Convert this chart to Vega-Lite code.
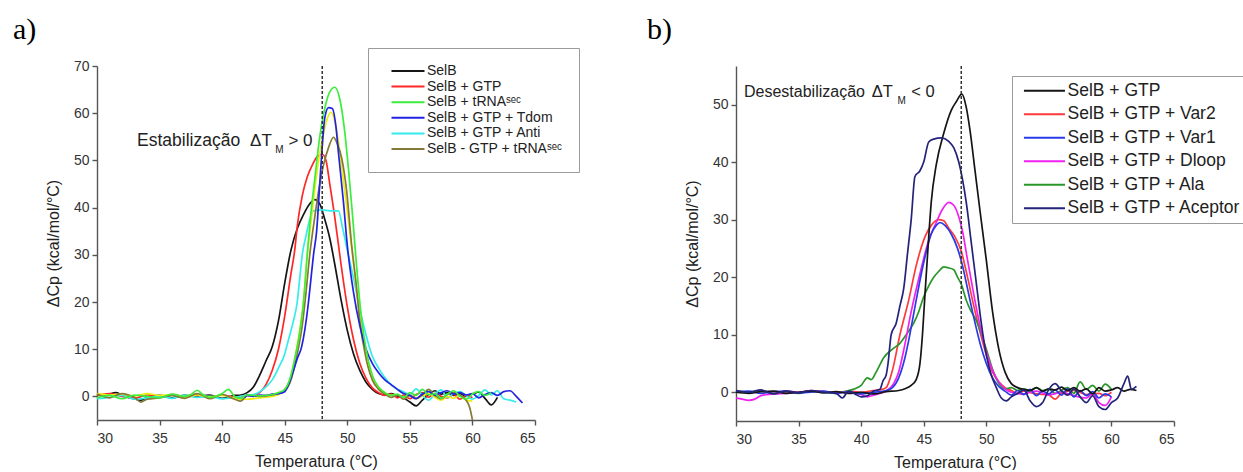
{
  "$schema": "https://vega.github.io/schema/vega-lite/v6.json",
  "padding": {"left": 13, "top": 14, "right": 0, "bottom": 0},
  "background": "#ffffff",
  "bounds": "flush",
  "spacing": 201,
  "config": {
    "font": "Liberation Sans",
    "view": {"stroke": null},
    "axis": {
      "grid": false,
      "labelFont": "Liberation Sans",
      "labelFontSize": 14,
      "labelColor": "#333333",
      "titleFont": "Liberation Sans",
      "titleFontSize": 16,
      "titleFontWeight": "normal",
      "titleColor": "#222222",
      "domainColor": "#555555",
      "domainWidth": 1.4,
      "tickColor": "#555555",
      "tickWidth": 1.4
    },
    "legend": {"labelFont": "Liberation Sans", "labelLimit": 400}
  },
  "datasets": {
    "painelA": [
      {"serie": "SelB", "temp": 30, "dcp": 0.4}, {"serie": "SelB", "temp": 30.5, "dcp": 0.1}, {"serie": "SelB", "temp": 31, "dcp": 0.5}, {"serie": "SelB", "temp": 31.5, "dcp": 0.8}, {"serie": "SelB", "temp": 32, "dcp": 0.3}, {"serie": "SelB", "temp": 32.5, "dcp": -0.2}, {"serie": "SelB", "temp": 33, "dcp": -0.5}, {"serie": "SelB", "temp": 33.5, "dcp": -0.8}, {"serie": "SelB", "temp": 34, "dcp": -0.2}, {"serie": "SelB", "temp": 35, "dcp": 0.2}, {"serie": "SelB", "temp": 36, "dcp": -0.3}, {"serie": "SelB", "temp": 37, "dcp": 0.2}, {"serie": "SelB", "temp": 38, "dcp": 0.0}, {"serie": "SelB", "temp": 39, "dcp": 0.3}, {"serie": "SelB", "temp": 40, "dcp": -0.4}, {"serie": "SelB", "temp": 41, "dcp": 0.2}, {"serie": "SelB", "temp": 41.5, "dcp": 0.3}, {"serie": "SelB", "temp": 42, "dcp": 0.8}, {"serie": "SelB", "temp": 42.5, "dcp": 2.0}, {"serie": "SelB", "temp": 43, "dcp": 4.5}, {"serie": "SelB", "temp": 43.5, "dcp": 7.5}, {"serie": "SelB", "temp": 44, "dcp": 10.5}, {"serie": "SelB", "temp": 44.5, "dcp": 16}, {"serie": "SelB", "temp": 45, "dcp": 24}, {"serie": "SelB", "temp": 45.5, "dcp": 31}, {"serie": "SelB", "temp": 46, "dcp": 35.5}, {"serie": "SelB", "temp": 46.5, "dcp": 38.5}, {"serie": "SelB", "temp": 47, "dcp": 40.8}, {"serie": "SelB", "temp": 47.4, "dcp": 41.7}, {"serie": "SelB", "temp": 47.8, "dcp": 40.8}, {"serie": "SelB", "temp": 48.2, "dcp": 37.5}, {"serie": "SelB", "temp": 48.6, "dcp": 33.5}, {"serie": "SelB", "temp": 49, "dcp": 28}, {"serie": "SelB", "temp": 49.5, "dcp": 20.5}, {"serie": "SelB", "temp": 50, "dcp": 14}, {"serie": "SelB", "temp": 50.5, "dcp": 9}, {"serie": "SelB", "temp": 51, "dcp": 5.5}, {"serie": "SelB", "temp": 51.5, "dcp": 3}, {"serie": "SelB", "temp": 52, "dcp": 1.5}, {"serie": "SelB", "temp": 52.5, "dcp": 0.6}, {"serie": "SelB", "temp": 53, "dcp": 0.3}, {"serie": "SelB", "temp": 53.5, "dcp": 0.6}, {"serie": "SelB", "temp": 54, "dcp": 0.1}, {"serie": "SelB", "temp": 54.5, "dcp": -0.3}, {"serie": "SelB", "temp": 55, "dcp": -1.2}, {"serie": "SelB", "temp": 55.5, "dcp": -2.0}, {"serie": "SelB", "temp": 56, "dcp": -0.8}, {"serie": "SelB", "temp": 56.5, "dcp": 0.4}, {"serie": "SelB", "temp": 57, "dcp": 1.2}, {"serie": "SelB", "temp": 57.5, "dcp": 0.5}, {"serie": "SelB", "temp": 58, "dcp": 0.8}, {"serie": "SelB", "temp": 58.5, "dcp": 0.2}, {"serie": "SelB", "temp": 59, "dcp": 0.6}, {"serie": "SelB", "temp": 59.5, "dcp": 0.0}, {"serie": "SelB", "temp": 60, "dcp": 0.5}, {"serie": "SelB", "temp": 60.5, "dcp": 0.9}, {"serie": "SelB", "temp": 61, "dcp": -0.4}, {"serie": "SelB", "temp": 61.5, "dcp": -1.8}, {"serie": "SelB", "temp": 62, "dcp": -0.2},

      {"serie": "SelB + GTP", "temp": 30, "dcp": 0.2}, {"serie": "SelB + GTP", "temp": 31, "dcp": 0.6}, {"serie": "SelB + GTP", "temp": 32, "dcp": 0.0}, {"serie": "SelB + GTP", "temp": 33, "dcp": -0.4}, {"serie": "SelB + GTP", "temp": 34, "dcp": 0.3}, {"serie": "SelB + GTP", "temp": 35, "dcp": -0.2}, {"serie": "SelB + GTP", "temp": 36, "dcp": 0.4}, {"serie": "SelB + GTP", "temp": 37, "dcp": -0.1}, {"serie": "SelB + GTP", "temp": 38, "dcp": 0.2}, {"serie": "SelB + GTP", "temp": 39, "dcp": -0.3}, {"serie": "SelB + GTP", "temp": 40, "dcp": 0.3}, {"serie": "SelB + GTP", "temp": 41, "dcp": -0.2}, {"serie": "SelB + GTP", "temp": 42, "dcp": 0.2}, {"serie": "SelB + GTP", "temp": 42.5, "dcp": 0.3}, {"serie": "SelB + GTP", "temp": 43, "dcp": 0.8}, {"serie": "SelB + GTP", "temp": 43.5, "dcp": 2.5}, {"serie": "SelB + GTP", "temp": 44, "dcp": 5.5}, {"serie": "SelB + GTP", "temp": 44.5, "dcp": 10}, {"serie": "SelB + GTP", "temp": 45, "dcp": 17}, {"serie": "SelB + GTP", "temp": 45.5, "dcp": 26}, {"serie": "SelB + GTP", "temp": 45.8, "dcp": 31}, {"serie": "SelB + GTP", "temp": 46, "dcp": 36}, {"serie": "SelB + GTP", "temp": 46.4, "dcp": 42.5}, {"serie": "SelB + GTP", "temp": 46.8, "dcp": 46.5}, {"serie": "SelB + GTP", "temp": 47.2, "dcp": 49}, {"serie": "SelB + GTP", "temp": 47.6, "dcp": 50.8}, {"serie": "SelB + GTP", "temp": 48, "dcp": 51.3}, {"serie": "SelB + GTP", "temp": 48.3, "dcp": 50}, {"serie": "SelB + GTP", "temp": 48.6, "dcp": 45}, {"serie": "SelB + GTP", "temp": 49, "dcp": 38}, {"serie": "SelB + GTP", "temp": 49.5, "dcp": 28}, {"serie": "SelB + GTP", "temp": 50, "dcp": 19}, {"serie": "SelB + GTP", "temp": 50.5, "dcp": 12}, {"serie": "SelB + GTP", "temp": 51, "dcp": 7}, {"serie": "SelB + GTP", "temp": 51.5, "dcp": 3.8}, {"serie": "SelB + GTP", "temp": 52, "dcp": 1.8}, {"serie": "SelB + GTP", "temp": 52.5, "dcp": 0.8}, {"serie": "SelB + GTP", "temp": 53, "dcp": 0.2}, {"serie": "SelB + GTP", "temp": 53.5, "dcp": 0.5}, {"serie": "SelB + GTP", "temp": 54, "dcp": -0.3}, {"serie": "SelB + GTP", "temp": 54.5, "dcp": 0.3}, {"serie": "SelB + GTP", "temp": 55, "dcp": -0.5}, {"serie": "SelB + GTP", "temp": 55.5, "dcp": 0.4}, {"serie": "SelB + GTP", "temp": 56, "dcp": 0.8}, {"serie": "SelB + GTP", "temp": 56.5, "dcp": -0.2}, {"serie": "SelB + GTP", "temp": 57, "dcp": 0.6}, {"serie": "SelB + GTP", "temp": 57.5, "dcp": 0.0}, {"serie": "SelB + GTP", "temp": 58, "dcp": -0.3}, {"serie": "SelB + GTP", "temp": 58.5, "dcp": 0.4}, {"serie": "SelB + GTP", "temp": 59, "dcp": -0.6}, {"serie": "SelB + GTP", "temp": 59.5, "dcp": 0.2}, {"serie": "SelB + GTP", "temp": 60, "dcp": -0.3},

      {"serie": "SelB + GTP + Anti", "temp": 30, "dcp": -0.5}, {"serie": "SelB + GTP + Anti", "temp": 31, "dcp": -0.2}, {"serie": "SelB + GTP + Anti", "temp": 32, "dcp": 0.2}, {"serie": "SelB + GTP + Anti", "temp": 33, "dcp": -0.6}, {"serie": "SelB + GTP + Anti", "temp": 34, "dcp": -0.3}, {"serie": "SelB + GTP + Anti", "temp": 35, "dcp": 0.1}, {"serie": "SelB + GTP + Anti", "temp": 36, "dcp": -0.4}, {"serie": "SelB + GTP + Anti", "temp": 37, "dcp": 0.2}, {"serie": "SelB + GTP + Anti", "temp": 38, "dcp": -0.2}, {"serie": "SelB + GTP + Anti", "temp": 39, "dcp": 0.0}, {"serie": "SelB + GTP + Anti", "temp": 40, "dcp": -0.5}, {"serie": "SelB + GTP + Anti", "temp": 41, "dcp": -0.2}, {"serie": "SelB + GTP + Anti", "temp": 42, "dcp": 0.3}, {"serie": "SelB + GTP + Anti", "temp": 42.5, "dcp": 0.4}, {"serie": "SelB + GTP + Anti", "temp": 43, "dcp": 1.0}, {"serie": "SelB + GTP + Anti", "temp": 43.5, "dcp": 2.0}, {"serie": "SelB + GTP + Anti", "temp": 44, "dcp": 3.5}, {"serie": "SelB + GTP + Anti", "temp": 44.5, "dcp": 6}, {"serie": "SelB + GTP + Anti", "temp": 45, "dcp": 9}, {"serie": "SelB + GTP + Anti", "temp": 45.3, "dcp": 12}, {"serie": "SelB + GTP + Anti", "temp": 45.7, "dcp": 16}, {"serie": "SelB + GTP + Anti", "temp": 46, "dcp": 20}, {"serie": "SelB + GTP + Anti", "temp": 46.2, "dcp": 25}, {"serie": "SelB + GTP + Anti", "temp": 46.4, "dcp": 30}, {"serie": "SelB + GTP + Anti", "temp": 46.7, "dcp": 34}, {"serie": "SelB + GTP + Anti", "temp": 47, "dcp": 37.5}, {"serie": "SelB + GTP + Anti", "temp": 47.3, "dcp": 39.3}, {"serie": "SelB + GTP + Anti", "temp": 48, "dcp": 39.5}, {"serie": "SelB + GTP + Anti", "temp": 48.6, "dcp": 39.3}, {"serie": "SelB + GTP + Anti", "temp": 49.3, "dcp": 39.3}, {"serie": "SelB + GTP + Anti", "temp": 49.6, "dcp": 36}, {"serie": "SelB + GTP + Anti", "temp": 50, "dcp": 31}, {"serie": "SelB + GTP + Anti", "temp": 50.5, "dcp": 25}, {"serie": "SelB + GTP + Anti", "temp": 51, "dcp": 18.5}, {"serie": "SelB + GTP + Anti", "temp": 51.5, "dcp": 13}, {"serie": "SelB + GTP + Anti", "temp": 52, "dcp": 8.5}, {"serie": "SelB + GTP + Anti", "temp": 52.5, "dcp": 6}, {"serie": "SelB + GTP + Anti", "temp": 53, "dcp": 4}, {"serie": "SelB + GTP + Anti", "temp": 53.5, "dcp": 2.5}, {"serie": "SelB + GTP + Anti", "temp": 54, "dcp": 1.5}, {"serie": "SelB + GTP + Anti", "temp": 54.5, "dcp": 1.0}, {"serie": "SelB + GTP + Anti", "temp": 55, "dcp": 0.4}, {"serie": "SelB + GTP + Anti", "temp": 55.5, "dcp": 1.6}, {"serie": "SelB + GTP + Anti", "temp": 56, "dcp": 0.2}, {"serie": "SelB + GTP + Anti", "temp": 56.5, "dcp": -0.8}, {"serie": "SelB + GTP + Anti", "temp": 57, "dcp": 0.5}, {"serie": "SelB + GTP + Anti", "temp": 57.5, "dcp": 1.4}, {"serie": "SelB + GTP + Anti", "temp": 58, "dcp": -0.2}, {"serie": "SelB + GTP + Anti", "temp": 58.5, "dcp": 0.6}, {"serie": "SelB + GTP + Anti", "temp": 59, "dcp": 1.0}, {"serie": "SelB + GTP + Anti", "temp": 59.5, "dcp": 0.2}, {"serie": "SelB + GTP + Anti", "temp": 60, "dcp": -0.6}, {"serie": "SelB + GTP + Anti", "temp": 60.5, "dcp": 0.2}, {"serie": "SelB + GTP + Anti", "temp": 61, "dcp": 1.4}, {"serie": "SelB + GTP + Anti", "temp": 61.5, "dcp": 0.3}, {"serie": "SelB + GTP + Anti", "temp": 62, "dcp": 1.2}, {"serie": "SelB + GTP + Anti", "temp": 62.5, "dcp": -0.5}, {"serie": "SelB + GTP + Anti", "temp": 63, "dcp": -0.8}, {"serie": "SelB + GTP + Anti", "temp": 63.5, "dcp": -1.2},

      {"serie": "SelB + GTP + tRNAˢᵉᶜ", "temp": 30, "dcp": 0.6}, {"serie": "SelB + GTP + tRNAˢᵉᶜ", "temp": 31, "dcp": 0.3}, {"serie": "SelB + GTP + tRNAˢᵉᶜ", "temp": 32, "dcp": 0.5}, {"serie": "SelB + GTP + tRNAˢᵉᶜ", "temp": 33, "dcp": 0.1}, {"serie": "SelB + GTP + tRNAˢᵉᶜ", "temp": 34, "dcp": 0.6}, {"serie": "SelB + GTP + tRNAˢᵉᶜ", "temp": 35, "dcp": 0.2}, {"serie": "SelB + GTP + tRNAˢᵉᶜ", "temp": 36, "dcp": 0.4}, {"serie": "SelB + GTP + tRNAˢᵉᶜ", "temp": 37, "dcp": -0.2}, {"serie": "SelB + GTP + tRNAˢᵉᶜ", "temp": 38, "dcp": 0.3}, {"serie": "SelB + GTP + tRNAˢᵉᶜ", "temp": 39, "dcp": -0.1}, {"serie": "SelB + GTP + tRNAˢᵉᶜ", "temp": 40, "dcp": 0.2}, {"serie": "SelB + GTP + tRNAˢᵉᶜ", "temp": 41, "dcp": -0.4}, {"serie": "SelB + GTP + tRNAˢᵉᶜ", "temp": 42, "dcp": -0.6}, {"serie": "SelB + GTP + tRNAˢᵉᶜ", "temp": 43, "dcp": -0.3}, {"serie": "SelB + GTP + tRNAˢᵉᶜ", "temp": 44, "dcp": 0.0}, {"serie": "SelB + GTP + tRNAˢᵉᶜ", "temp": 44.5, "dcp": 0.4}, {"serie": "SelB + GTP + tRNAˢᵉᶜ", "temp": 45, "dcp": 1.5}, {"serie": "SelB + GTP + tRNAˢᵉᶜ", "temp": 45.5, "dcp": 4}, {"serie": "SelB + GTP + tRNAˢᵉᶜ", "temp": 45.95, "dcp": 10}, {"serie": "SelB + GTP + tRNAˢᵉᶜ", "temp": 46.2, "dcp": 14}, {"serie": "SelB + GTP + tRNAˢᵉᶜ", "temp": 46.5, "dcp": 20}, {"serie": "SelB + GTP + tRNAˢᵉᶜ", "temp": 46.8, "dcp": 30}, {"serie": "SelB + GTP + tRNAˢᵉᶜ", "temp": 47.1, "dcp": 37}, {"serie": "SelB + GTP + tRNAˢᵉᶜ", "temp": 47.5, "dcp": 46}, {"serie": "SelB + GTP + tRNAˢᵉᶜ", "temp": 47.9, "dcp": 53}, {"serie": "SelB + GTP + tRNAˢᵉᶜ", "temp": 48.3, "dcp": 58}, {"serie": "SelB + GTP + tRNAˢᵉᶜ", "temp": 48.7, "dcp": 60.2}, {"serie": "SelB + GTP + tRNAˢᵉᶜ", "temp": 49.1, "dcp": 57}, {"serie": "SelB + GTP + tRNAˢᵉᶜ", "temp": 49.4, "dcp": 52}, {"serie": "SelB + GTP + tRNAˢᵉᶜ", "temp": 49.7, "dcp": 45.5}, {"serie": "SelB + GTP + tRNAˢᵉᶜ", "temp": 50.1, "dcp": 37}, {"serie": "SelB + GTP + tRNAˢᵉᶜ", "temp": 50.5, "dcp": 28}, {"serie": "SelB + GTP + tRNAˢᵉᶜ", "temp": 51, "dcp": 17}, {"serie": "SelB + GTP + tRNAˢᵉᶜ", "temp": 51.5, "dcp": 9}, {"serie": "SelB + GTP + tRNAˢᵉᶜ", "temp": 52, "dcp": 4}, {"serie": "SelB + GTP + tRNAˢᵉᶜ", "temp": 52.5, "dcp": 1.8}, {"serie": "SelB + GTP + tRNAˢᵉᶜ", "temp": 53, "dcp": 0.8}, {"serie": "SelB + GTP + tRNAˢᵉᶜ", "temp": 53.5, "dcp": 0.2}, {"serie": "SelB + GTP + tRNAˢᵉᶜ", "temp": 54, "dcp": 0.4}, {"serie": "SelB + GTP + tRNAˢᵉᶜ", "temp": 54.5, "dcp": -0.3}, {"serie": "SelB + GTP + tRNAˢᵉᶜ", "temp": 55, "dcp": 0.2}, {"serie": "SelB + GTP + tRNAˢᵉᶜ", "temp": 55.5, "dcp": -0.5}, {"serie": "SelB + GTP + tRNAˢᵉᶜ", "temp": 56, "dcp": 0.1}, {"serie": "SelB + GTP + tRNAˢᵉᶜ", "temp": 56.5, "dcp": 0.6}, {"serie": "SelB + GTP + tRNAˢᵉᶜ", "temp": 57, "dcp": -0.2}, {"serie": "SelB + GTP + tRNAˢᵉᶜ", "temp": 57.5, "dcp": -0.8}, {"serie": "SelB + GTP + tRNAˢᵉᶜ", "temp": 58, "dcp": 0.0}, {"serie": "SelB + GTP + tRNAˢᵉᶜ", "temp": 58.5, "dcp": -0.4}, {"serie": "SelB + GTP + tRNAˢᵉᶜ", "temp": 59, "dcp": 0.2}, {"serie": "SelB + GTP + tRNAˢᵉᶜ", "temp": 59.5, "dcp": -0.8}, {"serie": "SelB + GTP + tRNAˢᵉᶜ", "temp": 60, "dcp": -1.0},

      {"serie": "SelB - GTP + tRNAˢᵉᶜ", "temp": 30, "dcp": 0.5}, {"serie": "SelB - GTP + tRNAˢᵉᶜ", "temp": 30.5, "dcp": 0.0}, {"serie": "SelB - GTP + tRNAˢᵉᶜ", "temp": 31, "dcp": -0.3}, {"serie": "SelB - GTP + tRNAˢᵉᶜ", "temp": 31.5, "dcp": 0.2}, {"serie": "SelB - GTP + tRNAˢᵉᶜ", "temp": 32, "dcp": 0.6}, {"serie": "SelB - GTP + tRNAˢᵉᶜ", "temp": 32.5, "dcp": 0.3}, {"serie": "SelB - GTP + tRNAˢᵉᶜ", "temp": 33, "dcp": -0.2}, {"serie": "SelB - GTP + tRNAˢᵉᶜ", "temp": 33.5, "dcp": -1.2}, {"serie": "SelB - GTP + tRNAˢᵉᶜ", "temp": 34, "dcp": -0.6}, {"serie": "SelB - GTP + tRNAˢᵉᶜ", "temp": 35, "dcp": -0.3}, {"serie": "SelB - GTP + tRNAˢᵉᶜ", "temp": 36, "dcp": 0.2}, {"serie": "SelB - GTP + tRNAˢᵉᶜ", "temp": 37, "dcp": -0.4}, {"serie": "SelB - GTP + tRNAˢᵉᶜ", "temp": 38, "dcp": 0.6}, {"serie": "SelB - GTP + tRNAˢᵉᶜ", "temp": 38.5, "dcp": 0.2}, {"serie": "SelB - GTP + tRNAˢᵉᶜ", "temp": 39, "dcp": -0.5}, {"serie": "SelB - GTP + tRNAˢᵉᶜ", "temp": 40, "dcp": 0.4}, {"serie": "SelB - GTP + tRNAˢᵉᶜ", "temp": 41, "dcp": -0.6}, {"serie": "SelB - GTP + tRNAˢᵉᶜ", "temp": 41.5, "dcp": -1.0}, {"serie": "SelB - GTP + tRNAˢᵉᶜ", "temp": 42, "dcp": 0.2}, {"serie": "SelB - GTP + tRNAˢᵉᶜ", "temp": 43, "dcp": 0.0}, {"serie": "SelB - GTP + tRNAˢᵉᶜ", "temp": 44, "dcp": 0.3}, {"serie": "SelB - GTP + tRNAˢᵉᶜ", "temp": 44.5, "dcp": 0.6}, {"serie": "SelB - GTP + tRNAˢᵉᶜ", "temp": 45, "dcp": 1.2}, {"serie": "SelB - GTP + tRNAˢᵉᶜ", "temp": 45.5, "dcp": 3.5}, {"serie": "SelB - GTP + tRNAˢᵉᶜ", "temp": 46, "dcp": 9}, {"serie": "SelB - GTP + tRNAˢᵉᶜ", "temp": 46.4, "dcp": 15}, {"serie": "SelB - GTP + tRNAˢᵉᶜ", "temp": 46.7, "dcp": 22}, {"serie": "SelB - GTP + tRNAˢᵉᶜ", "temp": 47, "dcp": 30}, {"serie": "SelB - GTP + tRNAˢᵉᶜ", "temp": 47.4, "dcp": 38}, {"serie": "SelB - GTP + tRNAˢᵉᶜ", "temp": 47.8, "dcp": 45}, {"serie": "SelB - GTP + tRNAˢᵉᶜ", "temp": 48.1, "dcp": 49}, {"serie": "SelB - GTP + tRNAˢᵉᶜ", "temp": 48.5, "dcp": 52.7}, {"serie": "SelB - GTP + tRNAˢᵉᶜ", "temp": 48.9, "dcp": 54.9}, {"serie": "SelB - GTP + tRNAˢᵉᶜ", "temp": 49.2, "dcp": 53.5}, {"serie": "SelB - GTP + tRNAˢᵉᶜ", "temp": 49.55, "dcp": 50.5}, {"serie": "SelB - GTP + tRNAˢᵉᶜ", "temp": 49.95, "dcp": 43.5}, {"serie": "SelB - GTP + tRNAˢᵉᶜ", "temp": 50.35, "dcp": 32}, {"serie": "SelB - GTP + tRNAˢᵉᶜ", "temp": 50.7, "dcp": 24}, {"serie": "SelB - GTP + tRNAˢᵉᶜ", "temp": 51, "dcp": 16}, {"serie": "SelB - GTP + tRNAˢᵉᶜ", "temp": 51.5, "dcp": 8}, {"serie": "SelB - GTP + tRNAˢᵉᶜ", "temp": 52, "dcp": 3.5}, {"serie": "SelB - GTP + tRNAˢᵉᶜ", "temp": 52.5, "dcp": 1.5}, {"serie": "SelB - GTP + tRNAˢᵉᶜ", "temp": 53, "dcp": 0.5}, {"serie": "SelB - GTP + tRNAˢᵉᶜ", "temp": 53.5, "dcp": -0.2}, {"serie": "SelB - GTP + tRNAˢᵉᶜ", "temp": 54, "dcp": 0.3}, {"serie": "SelB - GTP + tRNAˢᵉᶜ", "temp": 54.5, "dcp": -0.6}, {"serie": "SelB - GTP + tRNAˢᵉᶜ", "temp": 55, "dcp": 0.2}, {"serie": "SelB - GTP + tRNAˢᵉᶜ", "temp": 55.5, "dcp": -0.4}, {"serie": "SelB - GTP + tRNAˢᵉᶜ", "temp": 56, "dcp": 0.3}, {"serie": "SelB - GTP + tRNAˢᵉᶜ", "temp": 56.5, "dcp": 1.5}, {"serie": "SelB - GTP + tRNAˢᵉᶜ", "temp": 57, "dcp": 0.2}, {"serie": "SelB - GTP + tRNAˢᵉᶜ", "temp": 57.5, "dcp": -0.5}, {"serie": "SelB - GTP + tRNAˢᵉᶜ", "temp": 58, "dcp": 0.4}, {"serie": "SelB - GTP + tRNAˢᵉᶜ", "temp": 58.5, "dcp": 0.8}, {"serie": "SelB - GTP + tRNAˢᵉᶜ", "temp": 59, "dcp": 0.2}, {"serie": "SelB - GTP + tRNAˢᵉᶜ", "temp": 59.5, "dcp": -0.8}, {"serie": "SelB - GTP + tRNAˢᵉᶜ", "temp": 59.8, "dcp": -2.5}, {"serie": "SelB - GTP + tRNAˢᵉᶜ", "temp": 60, "dcp": -5},

      {"serie": "SelB + GTP + Tdom", "temp": 41.8, "dcp": -0.3}, {"serie": "SelB + GTP + Tdom", "temp": 42, "dcp": 0.2}, {"serie": "SelB + GTP + Tdom", "temp": 42.5, "dcp": 0.0}, {"serie": "SelB + GTP + Tdom", "temp": 43, "dcp": 0.3}, {"serie": "SelB + GTP + Tdom", "temp": 43.5, "dcp": 0.2}, {"serie": "SelB + GTP + Tdom", "temp": 44, "dcp": 0.5}, {"serie": "SelB + GTP + Tdom", "temp": 44.5, "dcp": 0.6}, {"serie": "SelB + GTP + Tdom", "temp": 45, "dcp": 1.0}, {"serie": "SelB + GTP + Tdom", "temp": 45.3, "dcp": 2.5}, {"serie": "SelB + GTP + Tdom", "temp": 45.7, "dcp": 5.5}, {"serie": "SelB + GTP + Tdom", "temp": 46, "dcp": 8}, {"serie": "SelB + GTP + Tdom", "temp": 46.35, "dcp": 10.5}, {"serie": "SelB + GTP + Tdom", "temp": 46.6, "dcp": 14}, {"serie": "SelB + GTP + Tdom", "temp": 46.9, "dcp": 20}, {"serie": "SelB + GTP + Tdom", "temp": 47.1, "dcp": 25}, {"serie": "SelB + GTP + Tdom", "temp": 47.3, "dcp": 30}, {"serie": "SelB + GTP + Tdom", "temp": 47.55, "dcp": 35}, {"serie": "SelB + GTP + Tdom", "temp": 47.8, "dcp": 45}, {"serie": "SelB + GTP + Tdom", "temp": 48, "dcp": 53}, {"serie": "SelB + GTP + Tdom", "temp": 48.2, "dcp": 59}, {"serie": "SelB + GTP + Tdom", "temp": 48.5, "dcp": 61.2}, {"serie": "SelB + GTP + Tdom", "temp": 48.8, "dcp": 61}, {"serie": "SelB + GTP + Tdom", "temp": 49.1, "dcp": 57}, {"serie": "SelB + GTP + Tdom", "temp": 49.3, "dcp": 51.5}, {"serie": "SelB + GTP + Tdom", "temp": 49.7, "dcp": 41}, {"serie": "SelB + GTP + Tdom", "temp": 50, "dcp": 32}, {"serie": "SelB + GTP + Tdom", "temp": 50.5, "dcp": 22}, {"serie": "SelB + GTP + Tdom", "temp": 51, "dcp": 15}, {"serie": "SelB + GTP + Tdom", "temp": 51.5, "dcp": 10}, {"serie": "SelB + GTP + Tdom", "temp": 52, "dcp": 7}, {"serie": "SelB + GTP + Tdom", "temp": 52.5, "dcp": 5}, {"serie": "SelB + GTP + Tdom", "temp": 53, "dcp": 3.5}, {"serie": "SelB + GTP + Tdom", "temp": 53.5, "dcp": 2.5}, {"serie": "SelB + GTP + Tdom", "temp": 54, "dcp": 1.5}, {"serie": "SelB + GTP + Tdom", "temp": 54.5, "dcp": 0.6}, {"serie": "SelB + GTP + Tdom", "temp": 55, "dcp": 0.2}, {"serie": "SelB + GTP + Tdom", "temp": 55.5, "dcp": -0.5}, {"serie": "SelB + GTP + Tdom", "temp": 56, "dcp": 0.5}, {"serie": "SelB + GTP + Tdom", "temp": 56.5, "dcp": 1.0}, {"serie": "SelB + GTP + Tdom", "temp": 57, "dcp": 0.3}, {"serie": "SelB + GTP + Tdom", "temp": 57.5, "dcp": 0.8}, {"serie": "SelB + GTP + Tdom", "temp": 58, "dcp": 1.2}, {"serie": "SelB + GTP + Tdom", "temp": 58.5, "dcp": 0.5}, {"serie": "SelB + GTP + Tdom", "temp": 59, "dcp": 0.8}, {"serie": "SelB + GTP + Tdom", "temp": 59.5, "dcp": 0.3}, {"serie": "SelB + GTP + Tdom", "temp": 60, "dcp": 0.6}, {"serie": "SelB + GTP + Tdom", "temp": 60.5, "dcp": -0.3}, {"serie": "SelB + GTP + Tdom", "temp": 61, "dcp": 0.4}, {"serie": "SelB + GTP + Tdom", "temp": 61.5, "dcp": 0.8}, {"serie": "SelB + GTP + Tdom", "temp": 62, "dcp": 0.2}, {"serie": "SelB + GTP + Tdom", "temp": 62.5, "dcp": 1.0}, {"serie": "SelB + GTP + Tdom", "temp": 63, "dcp": 1.2}, {"serie": "SelB + GTP + Tdom", "temp": 63.5, "dcp": 0.0}, {"serie": "SelB + GTP + Tdom", "temp": 64, "dcp": -1.4},

      {"serie": "SelB + tRNAˢᵉᶜ", "temp": 30, "dcp": -0.3}, {"serie": "SelB + tRNAˢᵉᶜ", "temp": 31, "dcp": 0.2}, {"serie": "SelB + tRNAˢᵉᶜ", "temp": 32, "dcp": -0.5}, {"serie": "SelB + tRNAˢᵉᶜ", "temp": 33, "dcp": 0.3}, {"serie": "SelB + tRNAˢᵉᶜ", "temp": 34, "dcp": 0.0}, {"serie": "SelB + tRNAˢᵉᶜ", "temp": 35, "dcp": -0.3}, {"serie": "SelB + tRNAˢᵉᶜ", "temp": 36, "dcp": 0.5}, {"serie": "SelB + tRNAˢᵉᶜ", "temp": 37, "dcp": 0.0}, {"serie": "SelB + tRNAˢᵉᶜ", "temp": 37.5, "dcp": 0.4}, {"serie": "SelB + tRNAˢᵉᶜ", "temp": 38, "dcp": 1.3}, {"serie": "SelB + tRNAˢᵉᶜ", "temp": 38.5, "dcp": 0.3}, {"serie": "SelB + tRNAˢᵉᶜ", "temp": 39, "dcp": -0.2}, {"serie": "SelB + tRNAˢᵉᶜ", "temp": 40, "dcp": 0.6}, {"serie": "SelB + tRNAˢᵉᶜ", "temp": 40.5, "dcp": 1.5}, {"serie": "SelB + tRNAˢᵉᶜ", "temp": 41, "dcp": 0.0}, {"serie": "SelB + tRNAˢᵉᶜ", "temp": 41.5, "dcp": -0.4}, {"serie": "SelB + tRNAˢᵉᶜ", "temp": 42, "dcp": 0.3}, {"serie": "SelB + tRNAˢᵉᶜ", "temp": 43, "dcp": 0.1}, {"serie": "SelB + tRNAˢᵉᶜ", "temp": 44, "dcp": 0.4}, {"serie": "SelB + tRNAˢᵉᶜ", "temp": 44.5, "dcp": 0.8}, {"serie": "SelB + tRNAˢᵉᶜ", "temp": 45, "dcp": 1.5}, {"serie": "SelB + tRNAˢᵉᶜ", "temp": 45.5, "dcp": 4.5}, {"serie": "SelB + tRNAˢᵉᶜ", "temp": 45.8, "dcp": 8}, {"serie": "SelB + tRNAˢᵉᶜ", "temp": 46.1, "dcp": 12}, {"serie": "SelB + tRNAˢᵉᶜ", "temp": 46.5, "dcp": 20}, {"serie": "SelB + tRNAˢᵉᶜ", "temp": 46.8, "dcp": 30}, {"serie": "SelB + tRNAˢᵉᶜ", "temp": 47.1, "dcp": 39}, {"serie": "SelB + tRNAˢᵉᶜ", "temp": 47.4, "dcp": 46}, {"serie": "SelB + tRNAˢᵉᶜ", "temp": 47.8, "dcp": 55}, {"serie": "SelB + tRNAˢᵉᶜ", "temp": 48.2, "dcp": 61}, {"serie": "SelB + tRNAˢᵉᶜ", "temp": 48.6, "dcp": 64.5}, {"serie": "SelB + tRNAˢᵉᶜ", "temp": 49, "dcp": 65.5}, {"serie": "SelB + tRNAˢᵉᶜ", "temp": 49.4, "dcp": 63}, {"serie": "SelB + tRNAˢᵉᶜ", "temp": 49.8, "dcp": 56}, {"serie": "SelB + tRNAˢᵉᶜ", "temp": 50.1, "dcp": 48}, {"serie": "SelB + tRNAˢᵉᶜ", "temp": 50.4, "dcp": 39}, {"serie": "SelB + tRNAˢᵉᶜ", "temp": 50.7, "dcp": 29}, {"serie": "SelB + tRNAˢᵉᶜ", "temp": 51, "dcp": 20}, {"serie": "SelB + tRNAˢᵉᶜ", "temp": 51.5, "dcp": 10}, {"serie": "SelB + tRNAˢᵉᶜ", "temp": 52, "dcp": 4.5}, {"serie": "SelB + tRNAˢᵉᶜ", "temp": 52.5, "dcp": 2}, {"serie": "SelB + tRNAˢᵉᶜ", "temp": 53, "dcp": 0.8}, {"serie": "SelB + tRNAˢᵉᶜ", "temp": 53.5, "dcp": 0.2}, {"serie": "SelB + tRNAˢᵉᶜ", "temp": 54, "dcp": 0.5}, {"serie": "SelB + tRNAˢᵉᶜ", "temp": 54.5, "dcp": -0.2}, {"serie": "SelB + tRNAˢᵉᶜ", "temp": 55, "dcp": 0.8}, {"serie": "SelB + tRNAˢᵉᶜ", "temp": 55.5, "dcp": 0.2}, {"serie": "SelB + tRNAˢᵉᶜ", "temp": 56, "dcp": 1.5}, {"serie": "SelB + tRNAˢᵉᶜ", "temp": 56.5, "dcp": 0.3}, {"serie": "SelB + tRNAˢᵉᶜ", "temp": 57, "dcp": 0.6}, {"serie": "SelB + tRNAˢᵉᶜ", "temp": 57.5, "dcp": -0.4}, {"serie": "SelB + tRNAˢᵉᶜ", "temp": 58, "dcp": 0.5}, {"serie": "SelB + tRNAˢᵉᶜ", "temp": 58.5, "dcp": 1.2}, {"serie": "SelB + tRNAˢᵉᶜ", "temp": 59, "dcp": 0.0}, {"serie": "SelB + tRNAˢᵉᶜ", "temp": 59.5, "dcp": -0.6}, {"serie": "SelB + tRNAˢᵉᶜ", "temp": 60, "dcp": 0.5}, {"serie": "SelB + tRNAˢᵉᶜ", "temp": 60.5, "dcp": 1.0}, {"serie": "SelB + tRNAˢᵉᶜ", "temp": 61, "dcp": 0.2}, {"serie": "SelB + tRNAˢᵉᶜ", "temp": 61.5, "dcp": 0.8}
    ],
    "painelB": [
      {"serie": "SelB + GTP + Var2", "temp": 30, "dcp": 0.2}, {"serie": "SelB + GTP + Var2", "temp": 31, "dcp": 0.0}, {"serie": "SelB + GTP + Var2", "temp": 32, "dcp": 0.3}, {"serie": "SelB + GTP + Var2", "temp": 33, "dcp": -0.2}, {"serie": "SelB + GTP + Var2", "temp": 34, "dcp": 0.2}, {"serie": "SelB + GTP + Var2", "temp": 35, "dcp": 0.0}, {"serie": "SelB + GTP + Var2", "temp": 36, "dcp": 0.3}, {"serie": "SelB + GTP + Var2", "temp": 37, "dcp": 0.1}, {"serie": "SelB + GTP + Var2", "temp": 38, "dcp": -0.1}, {"serie": "SelB + GTP + Var2", "temp": 39, "dcp": 0.2}, {"serie": "SelB + GTP + Var2", "temp": 40, "dcp": 0.0}, {"serie": "SelB + GTP + Var2", "temp": 41, "dcp": 0.3}, {"serie": "SelB + GTP + Var2", "temp": 41.5, "dcp": 0.4}, {"serie": "SelB + GTP + Var2", "temp": 42, "dcp": 0.8}, {"serie": "SelB + GTP + Var2", "temp": 42.5, "dcp": 3.8}, {"serie": "SelB + GTP + Var2", "temp": 43.1, "dcp": 10}, {"serie": "SelB + GTP + Var2", "temp": 43.8, "dcp": 16}, {"serie": "SelB + GTP + Var2", "temp": 44.4, "dcp": 22}, {"serie": "SelB + GTP + Var2", "temp": 45.1, "dcp": 27}, {"serie": "SelB + GTP + Var2", "temp": 45.6, "dcp": 29}, {"serie": "SelB + GTP + Var2", "temp": 46.2, "dcp": 30}, {"serie": "SelB + GTP + Var2", "temp": 46.6, "dcp": 29.8}, {"serie": "SelB + GTP + Var2", "temp": 47, "dcp": 28.5}, {"serie": "SelB + GTP + Var2", "temp": 47.5, "dcp": 27}, {"serie": "SelB + GTP + Var2", "temp": 48, "dcp": 24.5}, {"serie": "SelB + GTP + Var2", "temp": 48.5, "dcp": 20}, {"serie": "SelB + GTP + Var2", "temp": 49, "dcp": 15}, {"serie": "SelB + GTP + Var2", "temp": 49.5, "dcp": 10.5}, {"serie": "SelB + GTP + Var2", "temp": 50, "dcp": 6.5}, {"serie": "SelB + GTP + Var2", "temp": 50.5, "dcp": 3.5}, {"serie": "SelB + GTP + Var2", "temp": 51, "dcp": 1.8}, {"serie": "SelB + GTP + Var2", "temp": 51.5, "dcp": 0.8}, {"serie": "SelB + GTP + Var2", "temp": 52, "dcp": 0.3}, {"serie": "SelB + GTP + Var2", "temp": 52.5, "dcp": -0.2}, {"serie": "SelB + GTP + Var2", "temp": 53, "dcp": 0.2}, {"serie": "SelB + GTP + Var2", "temp": 54, "dcp": -0.3}, {"serie": "SelB + GTP + Var2", "temp": 55, "dcp": -0.5}, {"serie": "SelB + GTP + Var2", "temp": 55.5, "dcp": -1.2}, {"serie": "SelB + GTP + Var2", "temp": 56, "dcp": -0.2}, {"serie": "SelB + GTP + Var2", "temp": 57, "dcp": 0.3}, {"serie": "SelB + GTP + Var2", "temp": 58, "dcp": -0.4}, {"serie": "SelB + GTP + Var2", "temp": 59, "dcp": -0.2}, {"serie": "SelB + GTP + Var2", "temp": 59.5, "dcp": -0.6}, {"serie": "SelB + GTP + Var2", "temp": 60, "dcp": 0.0},

      {"serie": "SelB + GTP + Ala", "temp": 30, "dcp": 0.3}, {"serie": "SelB + GTP + Ala", "temp": 31, "dcp": 0.0}, {"serie": "SelB + GTP + Ala", "temp": 32, "dcp": 0.2}, {"serie": "SelB + GTP + Ala", "temp": 33, "dcp": -0.3}, {"serie": "SelB + GTP + Ala", "temp": 34, "dcp": 0.1}, {"serie": "SelB + GTP + Ala", "temp": 35, "dcp": -0.2}, {"serie": "SelB + GTP + Ala", "temp": 36, "dcp": 0.2}, {"serie": "SelB + GTP + Ala", "temp": 37, "dcp": 0.0}, {"serie": "SelB + GTP + Ala", "temp": 38, "dcp": -0.2}, {"serie": "SelB + GTP + Ala", "temp": 39, "dcp": 0.3}, {"serie": "SelB + GTP + Ala", "temp": 39.5, "dcp": 0.6}, {"serie": "SelB + GTP + Ala", "temp": 40, "dcp": 1.2}, {"serie": "SelB + GTP + Ala", "temp": 40.5, "dcp": 2.5}, {"serie": "SelB + GTP + Ala", "temp": 40.8, "dcp": 2.2}, {"serie": "SelB + GTP + Ala", "temp": 41.2, "dcp": 3.5}, {"serie": "SelB + GTP + Ala", "temp": 41.8, "dcp": 6}, {"serie": "SelB + GTP + Ala", "temp": 42.5, "dcp": 7.5}, {"serie": "SelB + GTP + Ala", "temp": 43.1, "dcp": 8.5}, {"serie": "SelB + GTP + Ala", "temp": 43.6, "dcp": 10}, {"serie": "SelB + GTP + Ala", "temp": 44.2, "dcp": 12}, {"serie": "SelB + GTP + Ala", "temp": 44.6, "dcp": 14}, {"serie": "SelB + GTP + Ala", "temp": 45, "dcp": 16.6}, {"serie": "SelB + GTP + Ala", "temp": 45.4, "dcp": 18.5}, {"serie": "SelB + GTP + Ala", "temp": 45.8, "dcp": 20}, {"serie": "SelB + GTP + Ala", "temp": 46.2, "dcp": 21}, {"serie": "SelB + GTP + Ala", "temp": 46.6, "dcp": 21.8}, {"serie": "SelB + GTP + Ala", "temp": 47, "dcp": 21.6}, {"serie": "SelB + GTP + Ala", "temp": 47.4, "dcp": 21.3}, {"serie": "SelB + GTP + Ala", "temp": 47.7, "dcp": 20}, {"serie": "SelB + GTP + Ala", "temp": 48, "dcp": 18.8}, {"serie": "SelB + GTP + Ala", "temp": 48.4, "dcp": 16}, {"serie": "SelB + GTP + Ala", "temp": 48.8, "dcp": 14}, {"serie": "SelB + GTP + Ala", "temp": 49.2, "dcp": 12.5}, {"serie": "SelB + GTP + Ala", "temp": 49.5, "dcp": 10.7}, {"serie": "SelB + GTP + Ala", "temp": 50, "dcp": 7.5}, {"serie": "SelB + GTP + Ala", "temp": 50.5, "dcp": 4}, {"serie": "SelB + GTP + Ala", "temp": 51, "dcp": 1.5}, {"serie": "SelB + GTP + Ala", "temp": 51.5, "dcp": 0.6}, {"serie": "SelB + GTP + Ala", "temp": 52, "dcp": 0.8}, {"serie": "SelB + GTP + Ala", "temp": 52.5, "dcp": 0.3}, {"serie": "SelB + GTP + Ala", "temp": 53, "dcp": 0.6}, {"serie": "SelB + GTP + Ala", "temp": 53.5, "dcp": 0.2}, {"serie": "SelB + GTP + Ala", "temp": 54, "dcp": 0.8}, {"serie": "SelB + GTP + Ala", "temp": 54.5, "dcp": 0.3}, {"serie": "SelB + GTP + Ala", "temp": 55, "dcp": 0.5}, {"serie": "SelB + GTP + Ala", "temp": 55.5, "dcp": -0.2}, {"serie": "SelB + GTP + Ala", "temp": 56, "dcp": 0.3}, {"serie": "SelB + GTP + Ala", "temp": 56.5, "dcp": 0.8}, {"serie": "SelB + GTP + Ala", "temp": 57, "dcp": -0.2}, {"serie": "SelB + GTP + Ala", "temp": 57.5, "dcp": 1.8}, {"serie": "SelB + GTP + Ala", "temp": 58, "dcp": 0.5}, {"serie": "SelB + GTP + Ala", "temp": 58.5, "dcp": 1.2}, {"serie": "SelB + GTP + Ala", "temp": 59, "dcp": 0.2}, {"serie": "SelB + GTP + Ala", "temp": 59.5, "dcp": 1.4}, {"serie": "SelB + GTP + Ala", "temp": 60, "dcp": 0.5},

      {"serie": "SelB + GTP + Dloop", "temp": 30, "dcp": -1.0}, {"serie": "SelB + GTP + Dloop", "temp": 30.5, "dcp": -1.2}, {"serie": "SelB + GTP + Dloop", "temp": 31, "dcp": -1.4}, {"serie": "SelB + GTP + Dloop", "temp": 31.5, "dcp": -1.2}, {"serie": "SelB + GTP + Dloop", "temp": 32, "dcp": -0.6}, {"serie": "SelB + GTP + Dloop", "temp": 33, "dcp": -0.3}, {"serie": "SelB + GTP + Dloop", "temp": 34, "dcp": -0.2}, {"serie": "SelB + GTP + Dloop", "temp": 35, "dcp": 0.0}, {"serie": "SelB + GTP + Dloop", "temp": 36, "dcp": 0.2}, {"serie": "SelB + GTP + Dloop", "temp": 37, "dcp": 0.1}, {"serie": "SelB + GTP + Dloop", "temp": 38, "dcp": -0.1}, {"serie": "SelB + GTP + Dloop", "temp": 39, "dcp": 0.0}, {"serie": "SelB + GTP + Dloop", "temp": 40, "dcp": -0.4}, {"serie": "SelB + GTP + Dloop", "temp": 40.5, "dcp": -0.8}, {"serie": "SelB + GTP + Dloop", "temp": 41, "dcp": -0.5}, {"serie": "SelB + GTP + Dloop", "temp": 41.5, "dcp": -0.2}, {"serie": "SelB + GTP + Dloop", "temp": 42, "dcp": 0.2}, {"serie": "SelB + GTP + Dloop", "temp": 42.6, "dcp": 1.5}, {"serie": "SelB + GTP + Dloop", "temp": 43, "dcp": 3.5}, {"serie": "SelB + GTP + Dloop", "temp": 43.4, "dcp": 7.3}, {"serie": "SelB + GTP + Dloop", "temp": 44, "dcp": 14}, {"serie": "SelB + GTP + Dloop", "temp": 44.7, "dcp": 20.6}, {"serie": "SelB + GTP + Dloop", "temp": 45.4, "dcp": 26.4}, {"serie": "SelB + GTP + Dloop", "temp": 46, "dcp": 29.5}, {"serie": "SelB + GTP + Dloop", "temp": 46.5, "dcp": 31.8}, {"serie": "SelB + GTP + Dloop", "temp": 47, "dcp": 33}, {"serie": "SelB + GTP + Dloop", "temp": 47.4, "dcp": 32.5}, {"serie": "SelB + GTP + Dloop", "temp": 47.8, "dcp": 30.5}, {"serie": "SelB + GTP + Dloop", "temp": 48.1, "dcp": 28}, {"serie": "SelB + GTP + Dloop", "temp": 48.5, "dcp": 23}, {"serie": "SelB + GTP + Dloop", "temp": 49, "dcp": 17}, {"serie": "SelB + GTP + Dloop", "temp": 49.5, "dcp": 11.5}, {"serie": "SelB + GTP + Dloop", "temp": 50, "dcp": 7}, {"serie": "SelB + GTP + Dloop", "temp": 50.5, "dcp": 3.8}, {"serie": "SelB + GTP + Dloop", "temp": 51, "dcp": 1.8}, {"serie": "SelB + GTP + Dloop", "temp": 51.5, "dcp": 0.6}, {"serie": "SelB + GTP + Dloop", "temp": 52, "dcp": 0.0}, {"serie": "SelB + GTP + Dloop", "temp": 53, "dcp": -0.3}, {"serie": "SelB + GTP + Dloop", "temp": 54, "dcp": 0.2}, {"serie": "SelB + GTP + Dloop", "temp": 55, "dcp": -0.5}, {"serie": "SelB + GTP + Dloop", "temp": 56, "dcp": 0.0}, {"serie": "SelB + GTP + Dloop", "temp": 57, "dcp": -0.6}, {"serie": "SelB + GTP + Dloop", "temp": 58, "dcp": -1.0}, {"serie": "SelB + GTP + Dloop", "temp": 58.5, "dcp": -0.2}, {"serie": "SelB + GTP + Dloop", "temp": 59, "dcp": -1.8}, {"serie": "SelB + GTP + Dloop", "temp": 59.5, "dcp": -2.3}, {"serie": "SelB + GTP + Dloop", "temp": 60, "dcp": -0.8},

      {"serie": "SelB + GTP + Var1", "temp": 30, "dcp": 0.0}, {"serie": "SelB + GTP + Var1", "temp": 31, "dcp": 0.2}, {"serie": "SelB + GTP + Var1", "temp": 32, "dcp": -0.2}, {"serie": "SelB + GTP + Var1", "temp": 33, "dcp": 0.1}, {"serie": "SelB + GTP + Var1", "temp": 34, "dcp": 0.2}, {"serie": "SelB + GTP + Var1", "temp": 35, "dcp": -0.1}, {"serie": "SelB + GTP + Var1", "temp": 36, "dcp": 0.0}, {"serie": "SelB + GTP + Var1", "temp": 37, "dcp": 0.2}, {"serie": "SelB + GTP + Var1", "temp": 38, "dcp": -0.2}, {"serie": "SelB + GTP + Var1", "temp": 39, "dcp": 0.1}, {"serie": "SelB + GTP + Var1", "temp": 40, "dcp": -0.3}, {"serie": "SelB + GTP + Var1", "temp": 41, "dcp": 0.0}, {"serie": "SelB + GTP + Var1", "temp": 42, "dcp": 0.3}, {"serie": "SelB + GTP + Var1", "temp": 42.5, "dcp": 0.8}, {"serie": "SelB + GTP + Var1", "temp": 43, "dcp": 2.5}, {"serie": "SelB + GTP + Var1", "temp": 43.5, "dcp": 6}, {"serie": "SelB + GTP + Var1", "temp": 43.8, "dcp": 9}, {"serie": "SelB + GTP + Var1", "temp": 44.1, "dcp": 12.5}, {"serie": "SelB + GTP + Var1", "temp": 44.4, "dcp": 16}, {"serie": "SelB + GTP + Var1", "temp": 44.8, "dcp": 20.5}, {"serie": "SelB + GTP + Var1", "temp": 45.1, "dcp": 23.5}, {"serie": "SelB + GTP + Var1", "temp": 45.6, "dcp": 27.5}, {"serie": "SelB + GTP + Var1", "temp": 46, "dcp": 29}, {"serie": "SelB + GTP + Var1", "temp": 46.3, "dcp": 29.5}, {"serie": "SelB + GTP + Var1", "temp": 46.7, "dcp": 29}, {"serie": "SelB + GTP + Var1", "temp": 47.2, "dcp": 27.5}, {"serie": "SelB + GTP + Var1", "temp": 47.7, "dcp": 25}, {"serie": "SelB + GTP + Var1", "temp": 48.1, "dcp": 22}, {"serie": "SelB + GTP + Var1", "temp": 48.5, "dcp": 18}, {"serie": "SelB + GTP + Var1", "temp": 49, "dcp": 13}, {"serie": "SelB + GTP + Var1", "temp": 49.5, "dcp": 8.5}, {"serie": "SelB + GTP + Var1", "temp": 50, "dcp": 5}, {"serie": "SelB + GTP + Var1", "temp": 50.5, "dcp": 2.5}, {"serie": "SelB + GTP + Var1", "temp": 51, "dcp": 1.0}, {"serie": "SelB + GTP + Var1", "temp": 51.5, "dcp": 0.2}, {"serie": "SelB + GTP + Var1", "temp": 52, "dcp": -0.5}, {"serie": "SelB + GTP + Var1", "temp": 52.5, "dcp": 0.3}, {"serie": "SelB + GTP + Var1", "temp": 53, "dcp": -0.4}, {"serie": "SelB + GTP + Var1", "temp": 53.5, "dcp": 0.5}, {"serie": "SelB + GTP + Var1", "temp": 54, "dcp": -0.6}, {"serie": "SelB + GTP + Var1", "temp": 54.5, "dcp": 0.2}, {"serie": "SelB + GTP + Var1", "temp": 55, "dcp": -0.3}, {"serie": "SelB + GTP + Var1", "temp": 55.5, "dcp": 0.4}, {"serie": "SelB + GTP + Var1", "temp": 56, "dcp": -0.5}, {"serie": "SelB + GTP + Var1", "temp": 56.5, "dcp": 0.6}, {"serie": "SelB + GTP + Var1", "temp": 57, "dcp": -0.8}, {"serie": "SelB + GTP + Var1", "temp": 57.5, "dcp": 0.3}, {"serie": "SelB + GTP + Var1", "temp": 58, "dcp": -0.6}, {"serie": "SelB + GTP + Var1", "temp": 58.5, "dcp": 0.1}, {"serie": "SelB + GTP + Var1", "temp": 59, "dcp": -1.0}, {"serie": "SelB + GTP + Var1", "temp": 59.5, "dcp": -0.3}, {"serie": "SelB + GTP + Var1", "temp": 60, "dcp": -0.8},

      {"serie": "SelB + GTP", "temp": 30, "dcp": 0.0}, {"serie": "SelB + GTP", "temp": 31, "dcp": -0.2}, {"serie": "SelB + GTP", "temp": 32, "dcp": 0.1}, {"serie": "SelB + GTP", "temp": 33, "dcp": 0.2}, {"serie": "SelB + GTP", "temp": 34, "dcp": -0.2}, {"serie": "SelB + GTP", "temp": 35, "dcp": 0.0}, {"serie": "SelB + GTP", "temp": 36, "dcp": 0.2}, {"serie": "SelB + GTP", "temp": 37, "dcp": -0.1}, {"serie": "SelB + GTP", "temp": 38, "dcp": 0.1}, {"serie": "SelB + GTP", "temp": 39, "dcp": -0.2}, {"serie": "SelB + GTP", "temp": 40, "dcp": 0.0}, {"serie": "SelB + GTP", "temp": 41, "dcp": -0.3}, {"serie": "SelB + GTP", "temp": 42, "dcp": 0.1}, {"serie": "SelB + GTP", "temp": 43, "dcp": 0.3}, {"serie": "SelB + GTP", "temp": 43.5, "dcp": 0.6}, {"serie": "SelB + GTP", "temp": 44, "dcp": 1.2}, {"serie": "SelB + GTP", "temp": 44.4, "dcp": 2.2}, {"serie": "SelB + GTP", "temp": 44.7, "dcp": 5}, {"serie": "SelB + GTP", "temp": 44.9, "dcp": 10}, {"serie": "SelB + GTP", "temp": 45.1, "dcp": 17}, {"serie": "SelB + GTP", "temp": 45.4, "dcp": 27}, {"serie": "SelB + GTP", "temp": 45.6, "dcp": 33}, {"serie": "SelB + GTP", "temp": 46, "dcp": 39.5}, {"serie": "SelB + GTP", "temp": 46.6, "dcp": 45}, {"serie": "SelB + GTP", "temp": 47.2, "dcp": 49}, {"serie": "SelB + GTP", "temp": 47.6, "dcp": 50.5}, {"serie": "SelB + GTP", "temp": 48.05, "dcp": 51.8}, {"serie": "SelB + GTP", "temp": 48.4, "dcp": 49.5}, {"serie": "SelB + GTP", "temp": 48.7, "dcp": 45.5}, {"serie": "SelB + GTP", "temp": 49.1, "dcp": 38.5}, {"serie": "SelB + GTP", "temp": 49.5, "dcp": 31.5}, {"serie": "SelB + GTP", "temp": 50, "dcp": 23}, {"serie": "SelB + GTP", "temp": 50.5, "dcp": 14}, {"serie": "SelB + GTP", "temp": 51, "dcp": 7.5}, {"serie": "SelB + GTP", "temp": 51.5, "dcp": 3.5}, {"serie": "SelB + GTP", "temp": 52, "dcp": 1.5}, {"serie": "SelB + GTP", "temp": 52.5, "dcp": 0.8}, {"serie": "SelB + GTP", "temp": 53, "dcp": 0.5}, {"serie": "SelB + GTP", "temp": 53.5, "dcp": 0.3}, {"serie": "SelB + GTP", "temp": 54, "dcp": 0.8}, {"serie": "SelB + GTP", "temp": 54.5, "dcp": 0.2}, {"serie": "SelB + GTP", "temp": 55, "dcp": 0.6}, {"serie": "SelB + GTP", "temp": 55.5, "dcp": 0.4}, {"serie": "SelB + GTP", "temp": 56, "dcp": 0.9}, {"serie": "SelB + GTP", "temp": 56.5, "dcp": 0.3}, {"serie": "SelB + GTP", "temp": 57, "dcp": 0.8}, {"serie": "SelB + GTP", "temp": 57.5, "dcp": 0.2}, {"serie": "SelB + GTP", "temp": 58, "dcp": 0.6}, {"serie": "SelB + GTP", "temp": 58.5, "dcp": -0.3}, {"serie": "SelB + GTP", "temp": 59, "dcp": 0.8}, {"serie": "SelB + GTP", "temp": 59.5, "dcp": 0.2}, {"serie": "SelB + GTP", "temp": 60, "dcp": 0.4}, {"serie": "SelB + GTP", "temp": 60.5, "dcp": 0.8}, {"serie": "SelB + GTP", "temp": 61, "dcp": 0.2}, {"serie": "SelB + GTP", "temp": 61.5, "dcp": 0.5}, {"serie": "SelB + GTP", "temp": 62, "dcp": 0.3},

      {"serie": "SelB + GTP + Aceptor", "temp": 30, "dcp": 0.3}, {"serie": "SelB + GTP + Aceptor", "temp": 31, "dcp": 0.0}, {"serie": "SelB + GTP + Aceptor", "temp": 32, "dcp": 0.4}, {"serie": "SelB + GTP + Aceptor", "temp": 33, "dcp": -0.3}, {"serie": "SelB + GTP + Aceptor", "temp": 34, "dcp": 0.2}, {"serie": "SelB + GTP + Aceptor", "temp": 35, "dcp": -0.1}, {"serie": "SelB + GTP + Aceptor", "temp": 36, "dcp": 0.3}, {"serie": "SelB + GTP + Aceptor", "temp": 37, "dcp": 0.0}, {"serie": "SelB + GTP + Aceptor", "temp": 38, "dcp": -0.2}, {"serie": "SelB + GTP + Aceptor", "temp": 38.5, "dcp": -1.0}, {"serie": "SelB + GTP + Aceptor", "temp": 39, "dcp": 0.2}, {"serie": "SelB + GTP + Aceptor", "temp": 39.5, "dcp": -0.3}, {"serie": "SelB + GTP + Aceptor", "temp": 40, "dcp": -0.8}, {"serie": "SelB + GTP + Aceptor", "temp": 40.5, "dcp": -0.6}, {"serie": "SelB + GTP + Aceptor", "temp": 41, "dcp": 0.2}, {"serie": "SelB + GTP + Aceptor", "temp": 41.5, "dcp": 0.5}, {"serie": "SelB + GTP + Aceptor", "temp": 41.75, "dcp": 2}, {"serie": "SelB + GTP + Aceptor", "temp": 42, "dcp": 3}, {"serie": "SelB + GTP + Aceptor", "temp": 42.15, "dcp": 5}, {"serie": "SelB + GTP + Aceptor", "temp": 42.4, "dcp": 10}, {"serie": "SelB + GTP + Aceptor", "temp": 42.8, "dcp": 12}, {"serie": "SelB + GTP + Aceptor", "temp": 43.1, "dcp": 15}, {"serie": "SelB + GTP + Aceptor", "temp": 43.4, "dcp": 18}, {"serie": "SelB + GTP + Aceptor", "temp": 43.7, "dcp": 24}, {"serie": "SelB + GTP + Aceptor", "temp": 44, "dcp": 30}, {"serie": "SelB + GTP + Aceptor", "temp": 44.3, "dcp": 37.5}, {"serie": "SelB + GTP + Aceptor", "temp": 44.7, "dcp": 38.5}, {"serie": "SelB + GTP + Aceptor", "temp": 45, "dcp": 40}, {"serie": "SelB + GTP + Aceptor", "temp": 45.4, "dcp": 43.5}, {"serie": "SelB + GTP + Aceptor", "temp": 45.8, "dcp": 44}, {"serie": "SelB + GTP + Aceptor", "temp": 46.4, "dcp": 44.2}, {"serie": "SelB + GTP + Aceptor", "temp": 47, "dcp": 43.6}, {"serie": "SelB + GTP + Aceptor", "temp": 47.4, "dcp": 42.5}, {"serie": "SelB + GTP + Aceptor", "temp": 47.8, "dcp": 40}, {"serie": "SelB + GTP + Aceptor", "temp": 48.1, "dcp": 37}, {"serie": "SelB + GTP + Aceptor", "temp": 48.4, "dcp": 33}, {"serie": "SelB + GTP + Aceptor", "temp": 48.8, "dcp": 26}, {"serie": "SelB + GTP + Aceptor", "temp": 49.2, "dcp": 19}, {"serie": "SelB + GTP + Aceptor", "temp": 49.6, "dcp": 12}, {"serie": "SelB + GTP + Aceptor", "temp": 50, "dcp": 6.5}, {"serie": "SelB + GTP + Aceptor", "temp": 50.4, "dcp": 3}, {"serie": "SelB + GTP + Aceptor", "temp": 50.8, "dcp": 0.8}, {"serie": "SelB + GTP + Aceptor", "temp": 51.2, "dcp": -1.0}, {"serie": "SelB + GTP + Aceptor", "temp": 51.6, "dcp": -1.5}, {"serie": "SelB + GTP + Aceptor", "temp": 52, "dcp": -0.8}, {"serie": "SelB + GTP + Aceptor", "temp": 52.5, "dcp": -0.2}, {"serie": "SelB + GTP + Aceptor", "temp": 53, "dcp": 0.4}, {"serie": "SelB + GTP + Aceptor", "temp": 53.5, "dcp": -1.5}, {"serie": "SelB + GTP + Aceptor", "temp": 54, "dcp": -2.5}, {"serie": "SelB + GTP + Aceptor", "temp": 54.5, "dcp": -1.8}, {"serie": "SelB + GTP + Aceptor", "temp": 55, "dcp": 0.5}, {"serie": "SelB + GTP + Aceptor", "temp": 55.5, "dcp": 1.5}, {"serie": "SelB + GTP + Aceptor", "temp": 56, "dcp": 0.3}, {"serie": "SelB + GTP + Aceptor", "temp": 56.5, "dcp": -0.5}, {"serie": "SelB + GTP + Aceptor", "temp": 57, "dcp": 0.6}, {"serie": "SelB + GTP + Aceptor", "temp": 57.5, "dcp": -0.8}, {"serie": "SelB + GTP + Aceptor", "temp": 58, "dcp": -1.8}, {"serie": "SelB + GTP + Aceptor", "temp": 58.5, "dcp": -0.6}, {"serie": "SelB + GTP + Aceptor", "temp": 59, "dcp": -2.5}, {"serie": "SelB + GTP + Aceptor", "temp": 59.5, "dcp": -3.0}, {"serie": "SelB + GTP + Aceptor", "temp": 60, "dcp": -1.8}, {"serie": "SelB + GTP + Aceptor", "temp": 60.5, "dcp": -1.0}, {"serie": "SelB + GTP + Aceptor", "temp": 61, "dcp": 1.5}, {"serie": "SelB + GTP + Aceptor", "temp": 61.3, "dcp": 2.8}, {"serie": "SelB + GTP + Aceptor", "temp": 61.6, "dcp": 0.5}, {"serie": "SelB + GTP + Aceptor", "temp": 62, "dcp": 1.0}
    ]
  },
  "resolve": {
    "scale": {"x": "independent", "y": "independent", "color": "independent"},
    "legend": {"color": "independent"}
  },
  "hconcat": [
    {
      "title": {"text": "a)", "anchor": "start", "frame": "group", "font": "Liberation Serif", "fontSize": 30, "fontWeight": "normal", "color": "#000000", "dx": -84, "offset": 3},
      "width": 438,
      "height": 354,
      "data": {"name": "painelA"},
      "layer": [
        {
          "mark": {"type": "line", "strokeWidth": 1.7, "interpolate": "monotone"},
          "encoding": {
            "x": {"field": "temp", "type": "quantitative", "scale": {"domain": [30, 65], "nice": false, "zero": false},
                  "axis": {"values": [30, 32.5, 35, 37.5, 40, 42.5, 45, 47.5, 50, 52.5, 55, 57.5, 60, 62.5, 65],
                           "labelExpr": "datum.value % 5 === 0 ? datum.label : ''",
                           "tickSize": {"condition": {"test": "datum.value % 5 === 0", "value": 5}, "value": 3},
                           "labelPadding": 6, "title": "Temperatura (°C)", "titlePadding": 8}},
            "y": {"field": "dcp", "type": "quantitative", "scale": {"domain": [-5, 70], "nice": false, "zero": false},
                  "axis": {"values": [0, 5, 10, 15, 20, 25, 30, 35, 40, 45, 50, 55, 60, 65, 70],
                           "labelExpr": "datum.value % 10 === 0 ? datum.label : ''",
                           "tickSize": {"condition": {"test": "datum.value % 10 === 0", "value": 5}, "value": 3},
                           "labelPadding": 3, "title": "ΔCp (kcal/mol/°C)", "titlePadding": 12}},
            "color": {
              "field": "serie", "type": "nominal",
              "scale": {
                "domain": ["SelB", "SelB + GTP", "SelB + tRNAˢᵉᶜ", "SelB + GTP + Tdom", "SelB + GTP + Anti", "SelB - GTP + tRNAˢᵉᶜ", "SelB + GTP + tRNAˢᵉᶜ"],
                "range": ["#151515", "#ff2626", "#3ded3d", "#2222e0", "#35ecec", "#857a35", "#eded10"]
              },
              "legend": {
                "values": ["SelB", "SelB + GTP", "SelB + tRNAˢᵉᶜ", "SelB + GTP + Tdom", "SelB + GTP + Anti", "SelB - GTP + tRNAˢᵉᶜ"],
                "orient": "none", "legendX": 271, "legendY": -18, "title": null,
                "symbolType": "M-3,0H3", "symbolSize": 121, "symbolStrokeWidth": 2,
                "symbolOffset": 17, "labelOffset": 12,
                "labelFontSize": 14, "labelColor": "#222222",
                "rowPadding": 1.6, "padding": 16,
                "strokeColor": "#9a9a9a", "fillColor": "#ffffff"
              }
            }
          }
        },
        {
          "data": {"values": [{}]},
          "mark": {"type": "rule", "color": "#333333", "strokeWidth": 1.5, "strokeDash": [3, 2]},
          "encoding": {"x": {"datum": 48, "type": "quantitative"}}
        },
        {
          "data": {"values": [{}]},
          "mark": {"type": "text", "align": "left", "baseline": "alphabetic", "fontSize": 17.5, "color": "#222222"},
          "encoding": {
            "x": {"datum": 33.2, "type": "quantitative"},
            "y": {"datum": 53.14, "type": "quantitative"},
            "text": {"value": "Estabilização"}
          }
        },
        {
          "data": {"values": [{}]},
          "mark": {"type": "text", "align": "left", "baseline": "alphabetic", "fontSize": 17, "color": "#222222"},
          "encoding": {
            "x": {"datum": 42.23, "type": "quantitative"},
            "y": {"datum": 53.14, "type": "quantitative"},
            "text": {"value": "ΔT"}
          }
        },
        {
          "data": {"values": [{}]},
          "mark": {"type": "text", "align": "left", "baseline": "alphabetic", "fontSize": 10, "color": "#222222"},
          "encoding": {
            "x": {"datum": 44.25, "type": "quantitative"},
            "y": {"datum": 51.6, "type": "quantitative"},
            "text": {"value": "M"}
          }
        },
        {
          "data": {"values": [{}]},
          "mark": {"type": "text", "align": "left", "baseline": "alphabetic", "fontSize": 17, "color": "#222222"},
          "encoding": {
            "x": {"datum": 45.3, "type": "quantitative"},
            "y": {"datum": 53.14, "type": "quantitative"},
            "text": {"value": "> 0"}
          }
        }
      ]
    },
    {
      "title": {"text": "b)", "anchor": "start", "frame": "group", "font": "Liberation Serif", "fontSize": 30, "fontWeight": "normal", "color": "#000000", "dx": -89, "offset": 20},
      "width": 438,
      "height": 355,
      "data": {"name": "painelB"},
      "layer": [
        {
          "mark": {"type": "line", "strokeWidth": 1.7, "interpolate": "monotone"},
          "encoding": {
            "x": {"field": "temp", "type": "quantitative", "scale": {"domain": [30, 65], "nice": false, "zero": false},
                  "axis": {"values": [30, 32.5, 35, 37.5, 40, 42.5, 45, 47.5, 50, 52.5, 55, 57.5, 60, 62.5, 65],
                           "labelExpr": "datum.value % 5 === 0 ? datum.label : ''",
                           "tickSize": {"condition": {"test": "datum.value % 5 === 0", "value": 5}, "value": 3},
                           "labelPadding": 6, "title": "Temperatura (°C)", "titlePadding": 8}},
            "y": {"field": "dcp", "type": "quantitative", "scale": {"domain": [-5, 56.7], "nice": false, "zero": false},
                  "axis": {"values": [0, 5, 10, 15, 20, 25, 30, 35, 40, 45, 50, 55],
                           "labelExpr": "datum.value % 10 === 0 ? datum.label : ''",
                           "tickSize": {"condition": {"test": "datum.value % 10 === 0", "value": 5}, "value": 3},
                           "labelPadding": 3, "title": "ΔCp (kcal/mol/°C)", "titlePadding": 12}},
            "color": {
              "field": "serie", "type": "nominal",
              "scale": {
                "domain": ["SelB + GTP", "SelB + GTP + Var2", "SelB + GTP + Var1", "SelB + GTP + Dloop", "SelB + GTP + Ala", "SelB + GTP + Aceptor"],
                "range": ["#151515", "#ff3a3a", "#2a3ae8", "#f020f0", "#2a962a", "#23237a"]
              },
              "legend": {
                "orient": "none", "legendX": 276, "legendY": 10, "title": null,
                "symbolType": "M-3,0H3", "symbolSize": 187, "symbolStrokeWidth": 2,
                "symbolOffset": 17.7, "labelOffset": 14.3,
                "labelFontSize": 17.5, "labelColor": "#222222",
                "rowPadding": 4.5, "padding": 6,
                "strokeColor": "#9a9a9a", "fillColor": "#ffffff"
              }
            }
          }
        },
        {
          "data": {"values": [{}]},
          "mark": {"type": "rule", "color": "#333333", "strokeWidth": 1.5, "strokeDash": [3, 2]},
          "encoding": {"x": {"datum": 48, "type": "quantitative"}}
        },
        {
          "data": {"values": [{}]},
          "mark": {"type": "text", "align": "left", "baseline": "alphabetic", "fontSize": 16, "color": "#222222"},
          "encoding": {
            "x": {"datum": 30.64, "type": "quantitative"},
            "y": {"datum": 51.3, "type": "quantitative"},
            "text": {"value": "Desestabilização"}
          }
        },
        {
          "data": {"values": [{}]},
          "mark": {"type": "text", "align": "left", "baseline": "alphabetic", "fontSize": 16.5, "color": "#222222"},
          "encoding": {
            "x": {"datum": 40.85, "type": "quantitative"},
            "y": {"datum": 51.3, "type": "quantitative"},
            "text": {"value": "ΔT"}
          }
        },
        {
          "data": {"values": [{}]},
          "mark": {"type": "text", "align": "left", "baseline": "alphabetic", "fontSize": 10, "color": "#222222"},
          "encoding": {
            "x": {"datum": 42.9, "type": "quantitative"},
            "y": {"datum": 50.1, "type": "quantitative"},
            "text": {"value": "M"}
          }
        },
        {
          "data": {"values": [{}]},
          "mark": {"type": "text", "align": "left", "baseline": "alphabetic", "fontSize": 16.5, "color": "#222222"},
          "encoding": {
            "x": {"datum": 44.0, "type": "quantitative"},
            "y": {"datum": 51.3, "type": "quantitative"},
            "text": {"value": "< 0"}
          }
        }
      ]
    }
  ]
}
